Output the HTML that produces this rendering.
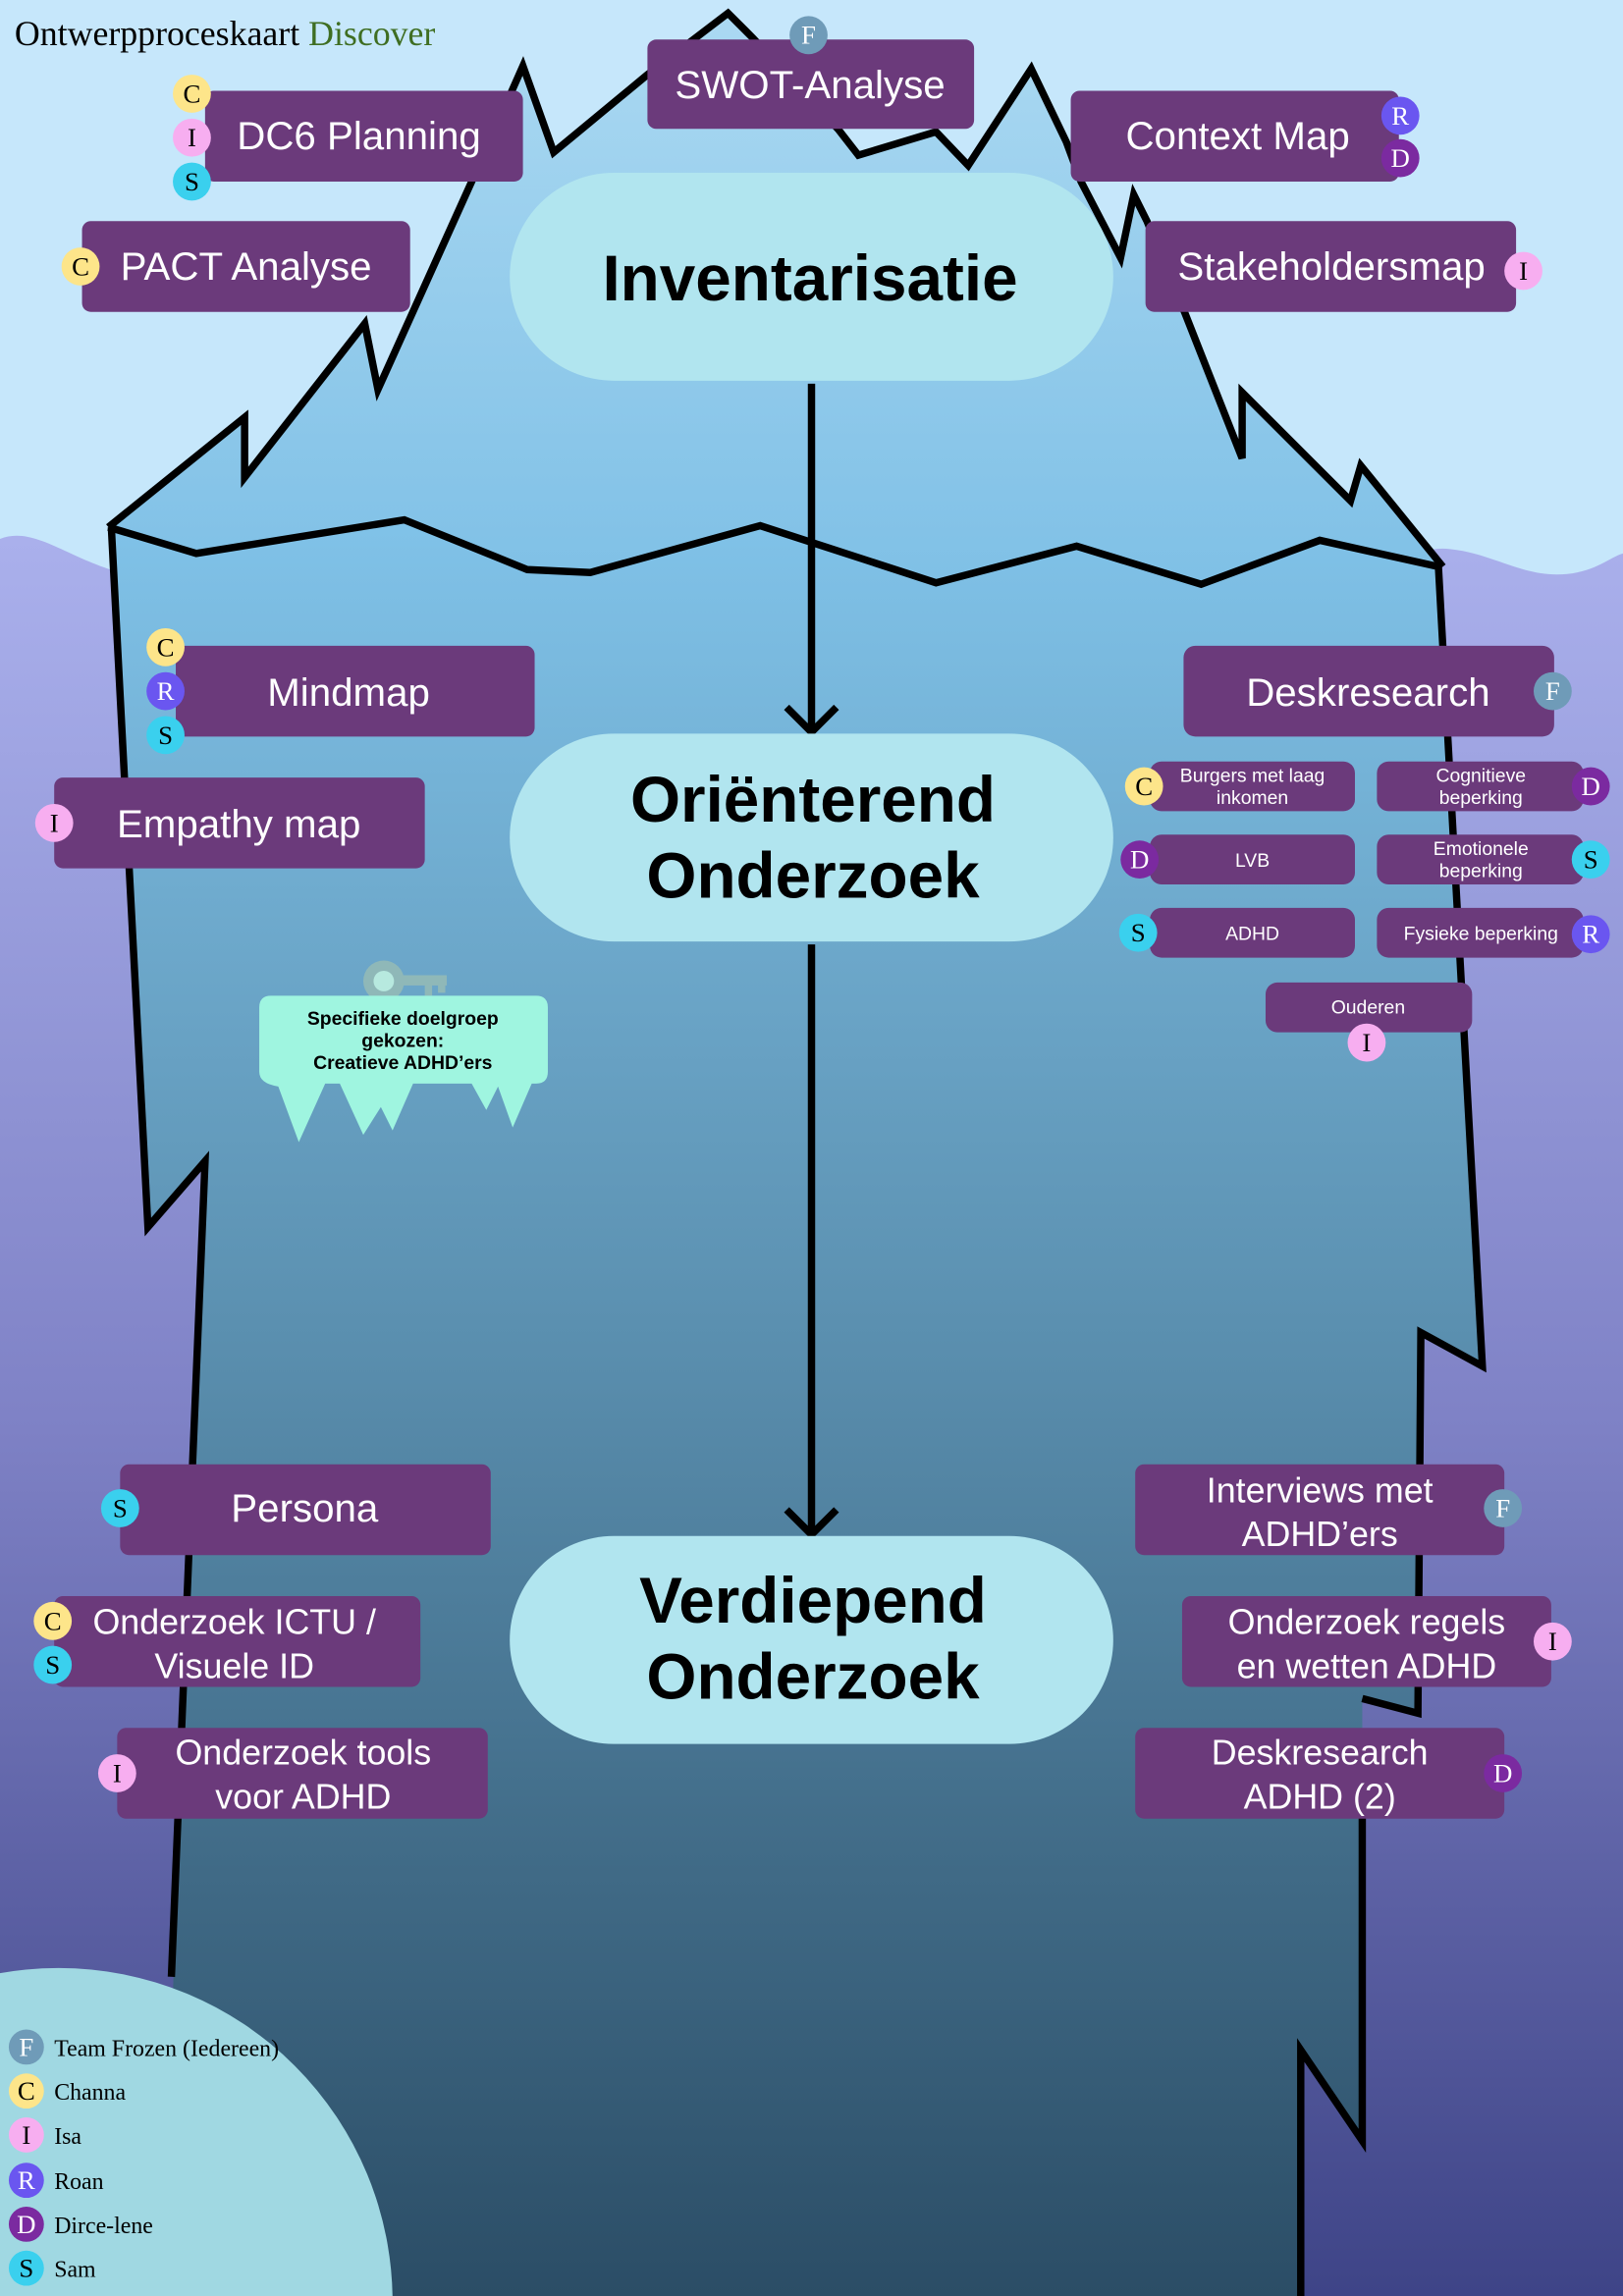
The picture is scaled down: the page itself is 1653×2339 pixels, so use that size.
<!DOCTYPE html>
<html><head><meta charset="utf-8"><style>html,body{margin:0;padding:0;width:1653px;height:2339px;overflow:hidden;}svg{display:block}</style></head>
<body>
<svg width="1653" height="2339" viewBox="0 0 1108 1568" preserveAspectRatio="none" xmlns="http://www.w3.org/2000/svg">
<defs>
<linearGradient id="water" x1="0" y1="0" x2="0" y2="1"><stop offset="0" stop-color="#aab0ec"/><stop offset="0.5" stop-color="#7f82c6"/><stop offset="1" stop-color="#3e4487"/></linearGradient>
<linearGradient id="top" x1="0" y1="0" x2="0" y2="1"><stop offset="0" stop-color="#abd9f2"/><stop offset="1" stop-color="#7fc0e6"/></linearGradient>
<linearGradient id="under" gradientUnits="userSpaceOnUse" x1="0" y1="360" x2="0" y2="1568"><stop offset="0" stop-color="#80c2e8"/><stop offset="0.45" stop-color="#5b90b0"/><stop offset="1" stop-color="#2b4d66"/></linearGradient>
</defs>
<rect width="1108" height="1568" fill="#c6e7fb"/>
<path d="M0,368 C30,356 60,398 120,395 L900,395 C950,392 965,372 990,375 C1020,378 1040,395 1070,392 C1090,390 1100,380 1108,378 L1108,1568 L0,1568 Z" fill="url(#water)"/>
<path d="M74,360 L167,285 L167,326 L249,221 L258,266 L322,124 L357,45 L378,104 L442,51 L497,9 L514,26 L572,88 L586,106 L639,90 L661,113 L704,47 L728,97 L738,124 L765,176 L774,133 L783,151 L809,214 L848,313 L848,268 L922,342 L929,318 L982,387 L901,369 L820,399 L735,373 L639,398 L519,359 L403,391 L360,389 L276,355 L134,378 Z" fill="url(#top)"/>
<path d="M74,360 L134,378 L276,355 L360,389 L403,391 L519,359 L639,398 L735,373 L820,399 L901,369 L982,387 L1012,933 L970,910 L968,1170 L930,1160 L930,1462 L888,1400 L888,1568 L110,1568 L140,793 L101,838 Z" fill="url(#under)"/>
<g fill="none" stroke="#000" stroke-width="5" stroke-linejoin="miter">
<path d="M74,360 L167,285 L167,326 L249,221 L258,266 L322,124 L357,45 L378,104 L442,51 L497,9 L514,26 L572,88 L586,106 L639,90 L661,113 L704,47 L728,97 L738,124 L765,176 L774,133 L783,151 L809,214 L848,313 L848,268 L922,342 L929,318 L985,387"/>
<path d="M74,360 L134,378 L276,355 L360,389 L403,391 L519,359 L639,398 L735,373 L820,399 L901,369 L982,387"/>
<path d="M76,360 L101,838 L140,793 L117,1350"/>
<path d="M982,387 L1012,933 L970,910 L968,1170 L930,1160 M930,1240 L930,1462 L888,1400 L888,1568"/>
<path d="M554,262 L554,500 M537,483 L554,500 L571,483"/>
<path d="M554,645 L554,1048 M537,1031 L554,1048 L571,1031"/>
</g>
<g fill="#b1e5ef">
<rect x="348" y="118" width="412" height="142" rx="71"/>
<rect x="348" y="501" width="412" height="142" rx="71"/>
<rect x="348" y="1049" width="412" height="142" rx="71"/>
</g>
<g font-family="Liberation Sans, sans-serif" font-weight="bold" font-size="44" text-anchor="middle" fill="#000">
<text x="553" y="205">Inventarisatie</text>
<text x="555" y="561">Oriënterend</text>
<text x="555" y="613">Onderzoek</text>
<text x="555" y="1108">Verdiepend</text>
<text x="555" y="1160">Onderzoek</text>
</g>
<g fill="#6b3a7b">
<rect x="442" y="27" width="223" height="61" rx="6"/>
<rect x="140" y="62" width="217" height="62" rx="6"/>
<rect x="56" y="151" width="224" height="62" rx="6"/>
<rect x="731" y="62" width="224" height="62" rx="6"/>
<rect x="782" y="151" width="253" height="62" rx="6"/>
<rect x="120" y="441" width="245" height="62" rx="6"/>
<rect x="37" y="531" width="253" height="62" rx="6"/>
<rect x="808" y="441" width="253" height="62" rx="8"/>
<rect x="785" y="520" width="140" height="34" rx="8"/>
<rect x="940" y="520" width="141" height="34" rx="8"/>
<rect x="785" y="570" width="140" height="34" rx="8"/>
<rect x="940" y="570" width="141" height="34" rx="8"/>
<rect x="785" y="620" width="140" height="34" rx="8"/>
<rect x="940" y="620" width="141" height="34" rx="8"/>
<rect x="864" y="671" width="141" height="34" rx="8"/>
<rect x="82" y="1000" width="253" height="62" rx="6"/>
<rect x="37" y="1090" width="250" height="62" rx="6"/>
<rect x="80" y="1180" width="253" height="62" rx="6"/>
<rect x="775" y="1000" width="252" height="62" rx="6"/>
<rect x="807" y="1090" width="252" height="62" rx="6"/>
<rect x="775" y="1180" width="252" height="62" rx="6"/>
</g>
<g font-family="Liberation Sans, sans-serif" font-size="27" fill="#fff" text-anchor="middle">
<text x="553" y="67">SWOT-Analyse</text>
<text x="245" y="102">DC6 Planning</text>
<text x="168" y="191">PACT Analyse</text>
<text x="845" y="102">Context Map</text>
<text x="909" y="191">Stakeholdersmap</text>
<text x="238" y="482">Mindmap</text>
<text x="163" y="572">Empathy map</text>
<text x="934" y="482">Deskresearch</text>
<text x="208" y="1039">Persona</text>
</g>
<g font-family="Liberation Sans, sans-serif" font-size="24" fill="#fff" text-anchor="middle">
<text x="160" y="1116">Onderzoek ICTU /</text><text x="160" y="1146">Visuele ID</text>
<text x="207" y="1205">Onderzoek tools</text><text x="207" y="1235">voor ADHD</text>
<text x="901" y="1026">Interviews met</text><text x="901" y="1056">ADHD’ers</text>
<text x="933" y="1116">Onderzoek regels</text><text x="933" y="1146">en wetten ADHD</text>
<text x="901" y="1205">Deskresearch</text><text x="901" y="1235">ADHD (2)</text>
</g>
<g font-family="Liberation Sans, sans-serif" font-size="13" fill="#fff" text-anchor="middle">
<text x="855" y="534">Burgers met laag</text><text x="855" y="549">inkomen</text>
<text x="1011" y="534">Cognitieve</text><text x="1011" y="549">beperking</text>
<text x="855" y="592">LVB</text>
<text x="1011" y="584">Emotionele</text><text x="1011" y="599">beperking</text>
<text x="855" y="642">ADHD</text>
<text x="1011" y="642">Fysieke beperking</text>
<text x="934" y="692">Ouderen</text>
</g>
<g fill="#8fb8b8"><circle cx="262" cy="670" r="14"/><rect x="270" y="666" width="35" height="7"/><rect x="290" y="670" width="5" height="10"/><rect x="299" y="670" width="5" height="8"/></g>
<circle cx="262" cy="670" r="7" fill="#b7e9df"/>
<path d="M185,680 L366,680 Q374,680 374,688 L374,732 Q374,740 366,740 L363,740 L350,770 L340,742 L332,758 L322,740 L282,740 L268,772 L260,756 L248,775 L232,740 L222,740 L204,780 L190,742 Q177,740 177,732 L177,688 Q177,680 185,680 Z" fill="#9ff5e0"/>
<g font-family="Liberation Sans, sans-serif" font-weight="bold" font-size="13" fill="#000" text-anchor="middle">
<text x="275" y="700">Specifieke doelgroep</text><text x="275" y="715">gekozen:</text><text x="275" y="730">Creatieve ADHD’ers</text>
</g>
<circle cx="40" cy="1572" r="228" fill="#a0d8e2"/>
<g font-family="Liberation Serif, serif" font-size="18" text-anchor="middle">
<g><circle cx="552" cy="24" r="13" fill="#6f9bb8"/><text x="552" y="30" fill="#fff">F</text></g>
<g><circle cx="131" cy="64" r="13" fill="#fde58a"/><text x="131" y="70">C</text></g>
<g><circle cx="131" cy="94" r="13" fill="#f7aef0"/><text x="131" y="100">I</text></g>
<g><circle cx="131" cy="124" r="13" fill="#3ad0ee"/><text x="131" y="130">S</text></g>
<g><circle cx="55" cy="182" r="13" fill="#fde58a"/><text x="55" y="188">C</text></g>
<g><circle cx="956" cy="79" r="13" fill="#6a56f0"/><text x="956" y="85" fill="#fff">R</text></g>
<g><circle cx="956" cy="108" r="13" fill="#7b2aa0"/><text x="956" y="114" fill="#fff">D</text></g>
<g><circle cx="1040" cy="185" r="13" fill="#f7aef0"/><text x="1040" y="191">I</text></g>
<g><circle cx="113" cy="442" r="13" fill="#fde58a"/><text x="113" y="448">C</text></g>
<g><circle cx="113" cy="472" r="13" fill="#6a56f0"/><text x="113" y="478" fill="#fff">R</text></g>
<g><circle cx="113" cy="502" r="13" fill="#3ad0ee"/><text x="113" y="508">S</text></g>
<g><circle cx="37" cy="562" r="13" fill="#f7aef0"/><text x="37" y="568">I</text></g>
<g><circle cx="1060" cy="472" r="13" fill="#6f9bb8"/><text x="1060" y="478" fill="#fff">F</text></g>
<g><circle cx="781" cy="537" r="13" fill="#fde58a"/><text x="781" y="543">C</text></g>
<g><circle cx="1086" cy="537" r="13" fill="#7b2aa0"/><text x="1086" y="543" fill="#fff">D</text></g>
<g><circle cx="778" cy="587" r="13" fill="#7b2aa0"/><text x="778" y="593" fill="#fff">D</text></g>
<g><circle cx="1086" cy="587" r="13" fill="#3ad0ee"/><text x="1086" y="593">S</text></g>
<g><circle cx="777" cy="637" r="13" fill="#3ad0ee"/><text x="777" y="643">S</text></g>
<g><circle cx="1086" cy="638" r="13" fill="#6a56f0"/><text x="1086" y="644" fill="#fff">R</text></g>
<g><circle cx="933" cy="712" r="13" fill="#f7aef0"/><text x="933" y="718">I</text></g>
<g><circle cx="82" cy="1030" r="13" fill="#3ad0ee"/><text x="82" y="1036">S</text></g>
<g><circle cx="36" cy="1107" r="13" fill="#fde58a"/><text x="36" y="1113">C</text></g>
<g><circle cx="36" cy="1137" r="13" fill="#3ad0ee"/><text x="36" y="1143">S</text></g>
<g><circle cx="80" cy="1211" r="13" fill="#f7aef0"/><text x="80" y="1217">I</text></g>
<g><circle cx="1026" cy="1030" r="13" fill="#6f9bb8"/><text x="1026" y="1036" fill="#fff">F</text></g>
<g><circle cx="1060" cy="1121" r="13" fill="#f7aef0"/><text x="1060" y="1127">I</text></g>
<g><circle cx="1026" cy="1211" r="13" fill="#7b2aa0"/><text x="1026" y="1217" fill="#fff">D</text></g>
<g><circle cx="18" cy="1398" r="12" fill="#6f9bb8"/><text x="18" y="1404" fill="#fff">F</text></g>
<g><circle cx="18" cy="1428" r="12" fill="#fde58a"/><text x="18" y="1434">C</text></g>
<g><circle cx="18" cy="1458" r="12" fill="#f7aef0"/><text x="18" y="1464">I</text></g>
<g><circle cx="18" cy="1489" r="12" fill="#6a56f0"/><text x="18" y="1495" fill="#fff">R</text></g>
<g><circle cx="18" cy="1519" r="12" fill="#7b2aa0"/><text x="18" y="1525" fill="#fff">D</text></g>
<g><circle cx="18" cy="1549" r="12" fill="#3ad0ee"/><text x="18" y="1555">S</text></g>
</g>
<g font-family="Liberation Serif, serif" font-size="16" fill="#000">
<text x="37" y="1404">Team Frozen (Iedereen)</text>
<text x="37" y="1434">Channa</text>
<text x="37" y="1464">Isa</text>
<text x="37" y="1495">Roan</text>
<text x="37" y="1525">Dirce-lene</text>
<text x="37" y="1555">Sam</text>
</g>
<text x="10" y="31" font-family="Liberation Serif, serif" font-size="24" fill="#000">Ontwerpproceskaart <tspan fill="#3f6e22">Discover</tspan></text>
</svg>
</body></html>
